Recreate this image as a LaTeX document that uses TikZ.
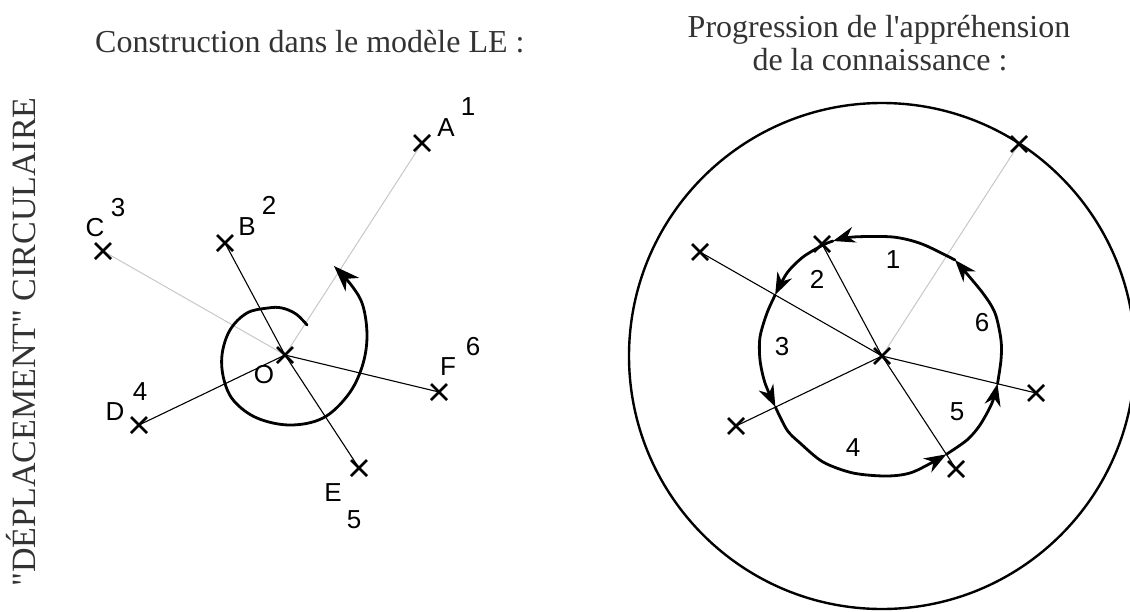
\documentclass[tikz,border=0pt]{standalone}
\usepackage{fontspec}
\newfontfamily\serifT{Liberation Serif}
\newfontfamily\sansT{Liberation Sans}
\usetikzlibrary{arrows.meta,calc}
\begin{document}
\begin{tikzpicture}[x=1pt,y=-1pt,
  ray/.style={line width=1.1pt, draw=black},
  grayray/.style={line width=1pt, draw=black!22},
  thick curve/.style={line width=2.8pt, line cap=round, line join=round},
  bigarrow/.style={-{Stealth[length=26pt,width=19pt,inset=8pt]}},
  smallarrow/.style={-{Stealth[length=22pt,width=16pt,inset=7pt]}},
  lbl/.style={font=\sansT\fontsize{26}{26}\selectfont, inner sep=0pt},
  ttl/.style={font=\serifT\fontsize{32}{34}\selectfont, inner sep=0pt, text=black!80},
  xmk/.pic={\draw[line width=2.6pt] (-8,-8)--(8,8) (-8,8)--(8,-8);}
]
\useasboundingbox (0,0) rectangle (1130,611);

% titles
\node[ttl, anchor=base west] (t1) at (95,52) {Construction dans le modèle LE :};
\node[ttl, anchor=base] (t2) at (879,37) {Progression de l'appréhension};
\node[ttl, anchor=base] (t3) at (880,70) {de la connaissance :};
\node[ttl, font=\serifT\fontsize{34}{34}\selectfont, rotate=90, anchor=base] (vt) at (35,342) {"DÉPLACEMENT" CIRCULAIRE};

% ---------- left diagram ----------
\coordinate (O) at (285,355);
\coordinate (A) at (422,143);
\coordinate (B) at (225,243);
\coordinate (C) at (103,251);
\coordinate (D) at (139,425);
\coordinate (E) at (359,468);
\coordinate (F) at (439,392);

\draw[grayray] (O) -- (A);
\draw[grayray] (O) -- (C);
\draw[ray] (O) -- (B);
\draw[ray] (O) -- (D);
\draw[ray] (O) -- (E);
\draw[ray] (O) -- (F);

\foreach \p in {O,A,B,C,D,E,F} \pic at (\p) {xmk};

\draw[thick curve, bigarrow] plot[smooth, tension=0.6] coordinates {
  (307,325) (296,314) (282,308) (268,308) (247,313) (230,330) (222,355)
  (224,380) (234,401) (257,418) (290,425) (323,418) (348,395) (362,367)
  (367,337) (363,306) (352,286) (334,266)};

\node[lbl] (lA) at (446,128) {A};
\node[lbl] (n1) at (468,107) {1};
\node[lbl] (lB) at (247,227) {B};
\node[lbl] (n2) at (269,205) {2};
\node[lbl] (lC) at (95,228) {C};
\node[lbl] (n3) at (118,208) {3};
\node[lbl] (lD) at (115,412) {D};
\node[lbl] (n4) at (140,392) {4};
\node[lbl] (lE) at (333,493) {E};
\node[lbl] (n5) at (354,520) {5};
\node[lbl] (lF) at (448,367) {F};
\node[lbl] (n6) at (473,347) {6};
\node[lbl] (lO) at (264,375) {O};

% ---------- right diagram ----------
\coordinate (O2) at (882,356);
\coordinate (A2) at ($(O2)+(137,-212)$);
\coordinate (B2) at ($(O2)+(-60,-112)$);
\coordinate (C2) at ($(O2)+(-182,-104)$);
\coordinate (D2) at ($(O2)+(-146,70)$);
\coordinate (E2) at ($(O2)+(74,113)$);
\coordinate (F2) at ($(O2)+(154,37)$);

\draw[line width=2.4pt] (O2) circle[radius=253pt];

\draw[grayray] (O2) -- (A2);
\draw[ray] (O2) -- (B2);
\draw[ray] (O2) -- (C2);
\draw[ray] (O2) -- (D2);
\draw[ray] (O2) -- (E2);
\draw[ray] (O2) -- (F2);

\foreach \p in {O2,A2,B2,C2,D2,E2,F2} \pic at (\p) {xmk};

\coordinate (IA) at (955,260);
\coordinate (IB) at (833,241);
\coordinate (IC) at ($(O2)!0.587!(C2)$);
\coordinate (ID) at ($(O2)!0.73!(D2)$);
\coordinate (IE) at ($(O2)!0.87!(E2)$);
\coordinate (IF) at ($(O2)!0.75!(F2)$);

\draw[thick curve, smallarrow] plot[smooth] coordinates {(IA) (922,244) (893,237) (853,237) (IB)};
\draw[thick curve, smallarrow] plot[smooth] coordinates {(IB) (823,245) (803,257) (787,273) (IC)};
\draw[thick curve, smallarrow] plot[smooth] coordinates {(IC) (767,313) (760,337) (760,360) (765,383) (ID)};
\draw[thick curve, smallarrow] plot[smooth] coordinates {(ID) (787,430) (800,443) (823,462) (853,473) (887,476) (913,472) (IE)};
\draw[thick curve, smallarrow] plot[smooth] coordinates {(IE) (967,440) (980,425) (992,403) (IF)};
\draw[thick curve, smallarrow] plot[smooth] coordinates {(IF) (1001,360) (1001,340) (995,313) (982,292) (IA)};

\node[lbl] (r1) at (893,260) {1};
\node[lbl] (r2) at (817,279) {2};
\node[lbl] (r3) at (782,347) {3};
\node[lbl] (r4) at (853,448) {4};
\node[lbl] (r5) at (957,412) {5};
\node[lbl] (r6) at (982,323) {6};
\end{tikzpicture}
\end{document}
